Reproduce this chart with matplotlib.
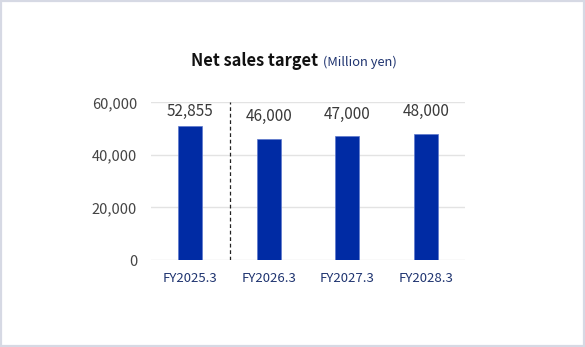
import matplotlib.pyplot as plt
from matplotlib.patches import Rectangle

plt.rcParams['font.family'] = ['Noto Sans CJK JP', 'DejaVu Sans']

# data
years = ["FY2025.3", "FY2026.3", "FY2027.3", "FY2028.3"]
bar_heights = [51000, 46000, 47000, 48000]  # first bar is drawn shorter than its label
bar_labels = ["52,855", "46,000", "47,000", "48,000"]
label_offsets = [4, 10, 10, 10]  # points above bar top
y_ticks = [0, 20000, 40000, 60000]

navy = "#1f3470"
bar_color = "#002ba4"

fig = plt.figure(figsize=(5.85, 3.47), dpi=100)
fig.patch.set_facecolor("white")
fig.patches.append(Rectangle((0.0015, 0.0025), 0.997, 0.995, transform=fig.transFigure,
                             fill=False, edgecolor="#d6d9e4", linewidth=1.6))

# axes box in pixels: x 151..465, y 102..260 (from top)
W, H = 585, 347
ax = fig.add_axes([151 / W, (H - 260) / H, (465 - 151) / W, (260 - 102.3) / H])

x = range(len(years))
ax.bar(x, bar_heights, width=0.31, color=bar_color, edgecolor="#5d78cc",
       linewidth=0.5, zorder=3)

for i, (h, lab, off) in enumerate(zip(bar_heights, bar_labels, label_offsets)):
    ax.annotate(lab, (i, h), xytext=(0, off), textcoords="offset points",
                ha="center", va="bottom", fontsize=11, color="#3a3a3a")

ax.axvline(0.5, color="#222222", linestyle=(0, (3, 2.2)), linewidth=0.9, zorder=4)

ax.set_xlim(-0.5, 3.5)
ax.set_ylim(0, 60000)
ax.set_yticks(y_ticks)
ax.set_yticklabels([f"{v:,}" for v in y_ticks])
ax.set_xticks(list(x))
ax.set_xticklabels(years)
ax.tick_params(axis="y", length=0, pad=10, labelsize=10.5, labelcolor="#444444")
ax.tick_params(axis="x", length=0, pad=9, labelsize=9.5, labelcolor=navy)
ax.grid(axis="y", color="#e3e3e3", linewidth=1.0, zorder=0)
for s in ax.spines.values():
    s.set_visible(False)

fig.text(318 / W, 1 - 61 / H, "Net sales target", ha="right", va="center",
         fontsize=11.8, fontweight="bold", color="#111111")
fig.text(323 / W, 1 - 62 / H, "(Million yen)", ha="left", va="center",
         fontsize=9.3, color=navy)

fig.savefig("out.png", dpi=100, facecolor="white")
